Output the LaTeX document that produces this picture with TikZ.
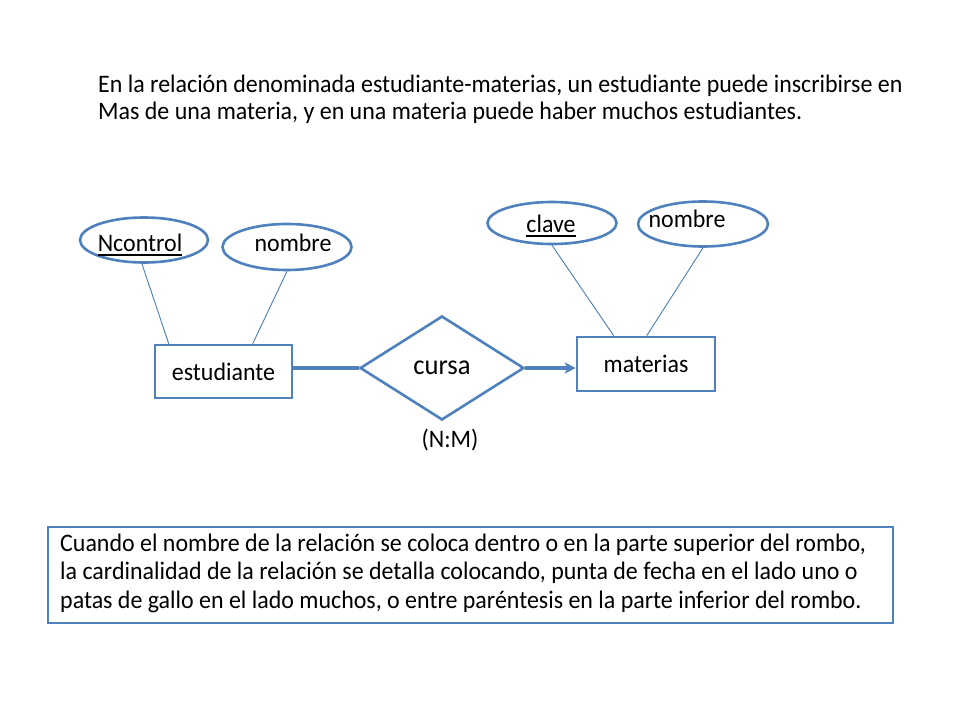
\documentclass[tikz,border=0pt]{standalone}
\usepackage{fontspec}
\setmainfont{Carlito}[FakeStretch=0.95]
\usetikzlibrary{shapes.geometric,arrows.meta,calc}
\definecolor{ppblue}{RGB}{79,129,189}
\definecolor{lnblue}{RGB}{74,126,187}
\begin{document}
\begin{tikzpicture}[x=1pt,y=-1pt,
  every node/.style={inner sep=0pt},
  txt/.style={font=\fontsize{25.2}{30}\selectfont},
  attr/.style={ellipse,draw=ppblue,line width=2.6pt,fill=white},
  ent/.style={rectangle,draw=ppblue,line width=2.6pt,fill=white,font=\fontsize{25.2}{30}\selectfont},
  rel/.style={diamond,draw=ppblue,line width=2.6pt,fill=white,font=\fontsize{28}{33}\selectfont},
  thin/.style={draw=lnblue,line width=0.9pt},
  thick/.style={draw=ppblue,line width=3.2pt},
  uline/.style={line width=1.6pt,black}]
\useasboundingbox[fill=white] (0,0) rectangle (960,720);

% top text
\node[txt,anchor=base west] (t1) at (98,92) {En la relación denominada estudiante-materias, un estudiante puede inscribirse en};
\node[txt,anchor=base west] (t2) at (98,119) {Mas de una materia, y en una materia puede haber muchos estudiantes.};

% attributes
\node[attr,minimum width=128,minimum height=45] (nc) at (144,240) {};
\node[attr,minimum width=129,minimum height=46] (nl) at (287,247) {};
\node[attr,minimum width=129,minimum height=42] (cl) at (552,223) {};
\node[attr,minimum width=130,minimum height=45] (nr) at (703,224) {};
\node[txt,anchor=base] (ncT) at (140,251) {Ncontrol};
\node[txt,anchor=base] (nlT) at (293,251) {nombre};
\node[txt,anchor=base] (clT) at (551,232) {clave};
\node[txt,anchor=base] (nrT) at (687,227) {nombre};
\draw[uline] ([yshift=-4]ncT.base west) -- ([yshift=-4]ncT.base east);
\draw[uline] ([yshift=-4]clT.base west) -- ([yshift=-4]clT.base east);

% entities and relation
\node[ent,minimum width=137,minimum height=53] (est) at (223.5,371.5) {estudiante};
\node[ent,minimum width=138,minimum height=54] (mat) at (646,364) {materias};
\node[rel,minimum width=164,minimum height=104] (cursa) at (442,368) {cursa};
\node[txt,anchor=base] (nm) at (450,447) {(N:M)};

% attribute connectors
\draw[thin] (nc.265) -- ([xshift=15]est.north west);
\draw[thin] (nl.south) -- ([xshift=99]est.north west);
\draw[thin] (cl.south) -- ([xshift=38]mat.north west);
\draw[thin] (nr.south) -- ([xshift=71]mat.north west);

% relation connectors
\draw[thick] (cursa.west -| est.east) -- (cursa.west);
\draw[thick,-{Stealth[length=11pt,width=11pt,inset=3pt]}] (cursa.east) -- (cursa.east -| mat.west);

% bottom note
\node[draw=ppblue,line width=2.6pt,minimum width=845,minimum height=96] (note) at (470.5,575) {};
\node[txt,anchor=base west] (b1) at (60,551) {Cuando el nombre de la relación se coloca dentro o en la parte superior del rombo,};
\node[txt,anchor=base west] (b2) at (60,579.5) {la cardinalidad de la relación se detalla colocando, punta de fecha en el lado uno o};
\node[txt,anchor=base west] (b3) at (60,608) {patas de gallo en el lado muchos, o entre paréntesis en la parte inferior del rombo.};
\end{tikzpicture}
\end{document}
